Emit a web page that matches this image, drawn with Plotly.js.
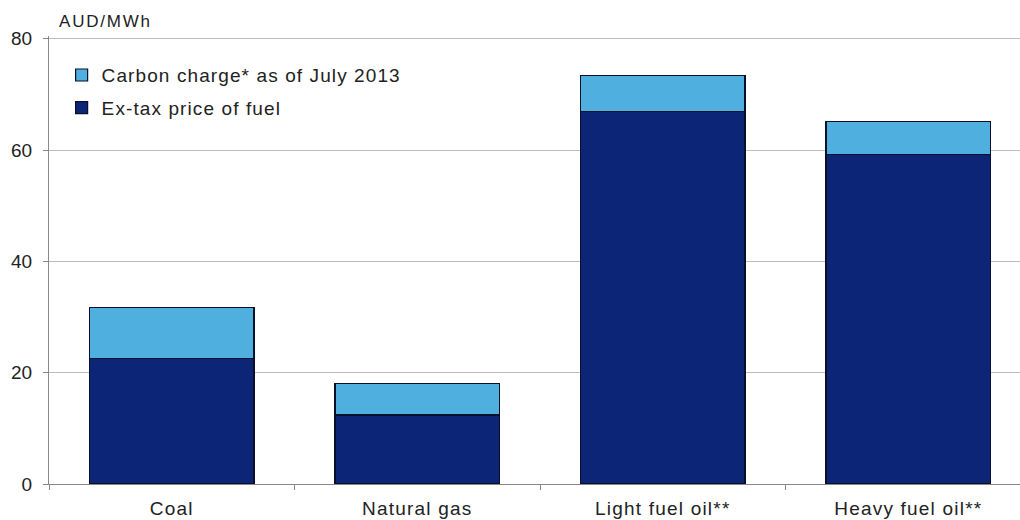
<!DOCTYPE html>
<html><head><meta charset="utf-8">
<script src="https://cdn.plot.ly/plotly-3.0.1.min.js"></script>
<style>
body{margin:0;background:#fff}
#c{width:1020px;height:520px}
.xtick text{letter-spacing:1.2px}
.legendtext{letter-spacing:1.1px}
.annotation-text{letter-spacing:1.8px}
</style>
</head><body><div id="c"></div>
<script>
const categories = ["Coal", "Natural gas", "Light fuel oil**", "Heavy fuel oil**"];
const exTaxPrice = [22.6, 12.4, 66.9, 59.2];
const carbonCharge = [9.1, 5.6, 6.5, 5.9];
const yTicks = [0, 20, 40, 60, 80];

const traces = [
  {type: "bar", name: "Ex-tax price of fuel", x: categories, y: exTaxPrice, legendgroup: "b", legendrank: 2,
   marker: {color: "#0c2577", line: {color: "#0a0f2a", width: 1.2}}, width: 0.67},
  {type: "bar", name: "Carbon charge* as of July 2013", x: categories, y: carbonCharge, legendgroup: "a", legendrank: 1,
   marker: {color: "#4fb0df", line: {color: "#0a0f2a", width: 1.2}}, width: 0.67}
];

const layout = {
  width: 1020, height: 520,
  margin: {l: 49, r: 0, t: 36, b: 36},
  paper_bgcolor: "#fff", plot_bgcolor: "#fff",
  barmode: "stack",
  font: {family: "Liberation Sans, Arial, sans-serif", size: 19, color: "#222"},
  showlegend: true,
  legend: {x: 0.013, y: 0.955, xanchor: "left", yanchor: "top", bgcolor: "rgba(0,0,0,0)",
           traceorder: "grouped", font: {size: 19, color: "#222"}, tracegroupgap: 5, itemwidth: 30},
  xaxis: {range: [-0.5, 3.455], showline: true, linecolor: "#888", linewidth: 1,
          ticks: "outside", tickson: "boundaries", ticklen: 5, tickcolor: "#888",
          ticklabelstandoff: 7,
          showgrid: false, tickfont: {size: 19, color: "#222"}, fixedrange: true},
  yaxis: {range: [0, 80.5], tickvals: yTicks, ticktext: yTicks.map(String),
          showline: true, linecolor: "#888", linewidth: 1, ticks: "outside", ticklen: 5,
          tickcolor: "#888", showgrid: true, gridcolor: "#bbbbbb", gridwidth: 1,
          ticklabelstandoff: 7,
          zeroline: false, tickfont: {size: 19, color: "#222"}},
  annotations: [{text: "AUD/MWh", xref: "paper", yref: "paper", x: 0.008, y: 1.0,
                 xanchor: "left", yanchor: "bottom", yshift: 3, showarrow: false,
                 font: {size: 17, color: "#222"}}]
};
Plotly.newPlot("c", traces, layout, {displayModeBar: false, staticPlot: true});
</script></body></html>
